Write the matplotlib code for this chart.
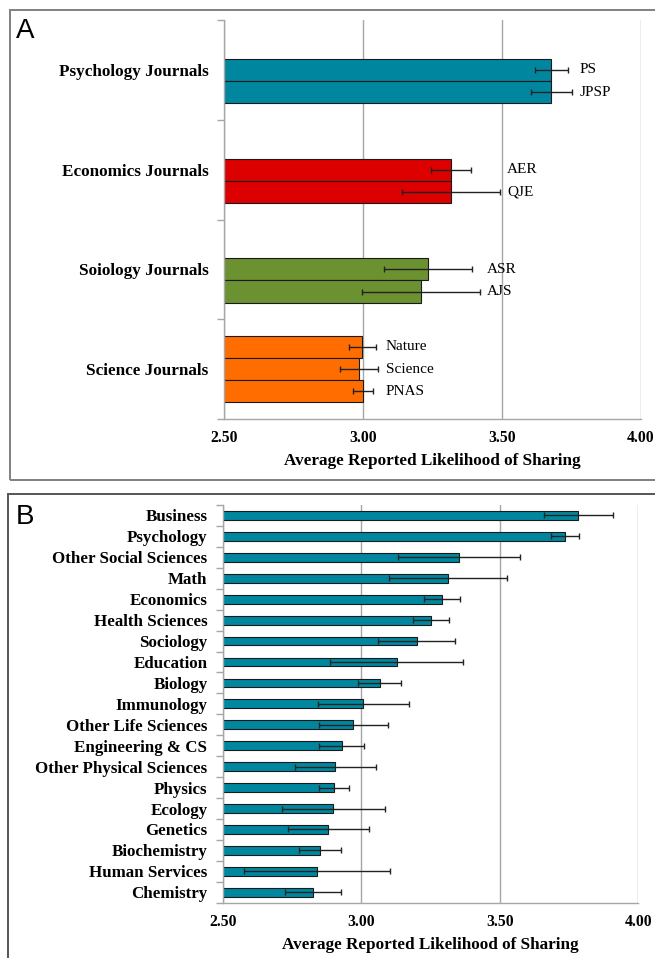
import matplotlib
matplotlib.use("Agg")
import matplotlib.pyplot as plt
from matplotlib.patches import Rectangle
import numpy as np

plt.rcParams['font.family'] = ['Liberation Serif', 'DejaVu Serif']

# panel A: journal groups, listed bottom to top
groups = ["Science Journals", "Soiology Journals", "Economics Journals", "Psychology Journals"]
group_colors = ["#FF6D00", "#6B9130", "#DD0000", "#00879F"]
journals = [["Nature", "Science", "PNAS"], ["ASR", "AJS"], ["AER", "QJE"], ["PS", "JPSP"]]
journal_means = [[2.997, 2.986, 3.000], [3.234, 3.209], [3.317, 3.317], [3.678, 3.678]]
journal_errs = [[0.048, 0.069, 0.037], [0.159, 0.211], [0.072, 0.176], [0.059, 0.074]]

# panel B: fields, top to bottom
fields = ["Business", "Psychology", "Other Social Sciences", "Math", "Economics",
          "Health Sciences", "Sociology", "Education", "Biology", "Immunology",
          "Other Life Sciences", "Engineering & CS", "Other Physical Sciences",
          "Physics", "Ecology", "Genetics", "Biochemistry", "Human Services", "Chemistry"]
field_means = [3.783, 3.735, 3.354, 3.313, 3.292, 3.253, 3.200, 3.128, 3.066, 3.008,
               2.972, 2.929, 2.906, 2.902, 2.899, 2.881, 2.852, 2.841, 2.825]
field_errs = [0.125, 0.050, 0.220, 0.214, 0.065, 0.065, 0.140, 0.240, 0.076, 0.163,
              0.123, 0.080, 0.146, 0.055, 0.186, 0.146, 0.075, 0.263, 0.101]

xticks = [2.5, 3.0, 3.5, 4.0]
xlabel = "Average Reported Likelihood of Sharing"
teal = "#00879F"
grid_c = "#a6a6a6"
err_kw = dict(ecolor="#222222", elinewidth=1.0, capsize=2.0, capthick=1.0)

fig = plt.figure(figsize=(6.55, 9.58), dpi=100)
W, H = 655, 958

# outer frames
fig.patches.append(Rectangle((10 / W, 1 - 480 / H), 650 / W, 470 / H, transform=fig.transFigure,
                             fill=False, edgecolor="#808080", linewidth=1.4))
fig.patches.append(Rectangle((8 / W, 1 - 962 / H), 652 / W, 468 / H, transform=fig.transFigure,
                             fill=False, edgecolor="#555555", linewidth=1.4))
fig.text(16 / W, 1 - 38.5 / H, "A", fontsize=20, family="Liberation Sans", va="baseline")
fig.text(16 / W, 1 - 523.5 / H, "B", fontsize=20, family="Liberation Sans", va="baseline")


def style_axis(ax, n):
    ax.set_xlim(2.5, 4.0)
    ax.set_xticks(xticks)
    ax.set_xticklabels(["%.2f" % t for t in xticks], fontsize=11.3, fontweight="bold")
    ax.tick_params(axis="x", length=0, pad=8)
    ax.tick_params(axis="y", which="major", length=0, pad=11)
    ax.set_yticks(np.arange(n + 1) - 0.5 if n > 4 else np.arange(n + 1), minor=True)
    ax.tick_params(axis="y", which="minor", length=5, color=grid_c, width=1)
    for s in ["top", "right"]:
        ax.spines[s].set_visible(False)
    for s in ["left", "bottom"]:
        ax.spines[s].set_color(grid_c)
        ax.spines[s].set_linewidth(1.0)
    ax.xaxis.grid(True, color=grid_c, linewidth=1.0)
    ax.set_axisbelow(True)
    ax.set_xlabel(xlabel, fontsize=12.3, fontweight="bold", labelpad=5)


# ---- panel A
axA = fig.add_axes([224 / W, 1 - 419 / H, 417 / W, 399 / H])
slot_offsets = [0.222, 0.0, -0.222]
bar_h = 0.222
for i, g in enumerate(groups):
    n = len(journals[i])
    offs = slot_offsets[3 - n:]
    ys = [i + 0.5 + o for o in offs]
    axA.barh(ys, journal_means[i], height=bar_h, left=0, color=group_colors[i],
             edgecolor="#1a1a1a", linewidth=0.8, zorder=2)
    axA.errorbar(journal_means[i], ys, xerr=journal_errs[i], fmt="none", zorder=3, **err_kw)
    lab_x = max(m + e for m, e in zip(journal_means[i], journal_errs[i])) + 0.026
    for y, name in zip(ys, journals[i]):
        axA.text(lab_x, y, name, fontsize=11, va="center", ha="left")
axA.set_ylim(0, 4)
axA.set_yticks(np.arange(4) + 0.5)
axA.set_yticklabels(groups, fontsize=12.3, fontweight="bold")
style_axis(axA, 4)

# ---- panel B
axB = fig.add_axes([222.7 / W, 1 - 902.7 / H, 415.6 / W, 397.7 / H])
yb = np.arange(len(fields))[::-1]
axB.barh(yb, field_means, height=0.42, left=0, color=teal, edgecolor="#1a1a1a",
         linewidth=0.8, zorder=2)
axB.errorbar(field_means, yb, xerr=field_errs, fmt="none", zorder=3, **err_kw)
axB.set_ylim(-0.5, len(fields) - 0.5)
axB.set_yticks(yb)
axB.set_yticklabels(fields, fontsize=12.2, fontweight="bold")
style_axis(axB, len(fields))

fig.savefig("out.png", dpi=100)
